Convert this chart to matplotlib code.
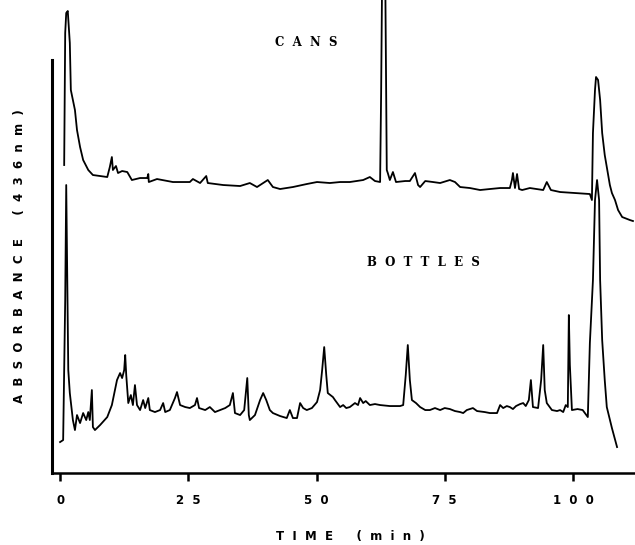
import matplotlib
matplotlib.use("Agg")
import matplotlib.pyplot as plt

# retention time (min) / absorbance (arbitrary units)
cans_t = [0.8, 1.0, 1.2, 1.5, 1.9, 2.1, 2.5, 2.9, 3.3, 3.9, 4.5,
          5.5, 6.4, 9.2, 9.7, 10.1, 10.3, 10.9, 11.3, 12.1, 13.1,
          14.0, 15.6, 17.0, 17.2, 17.3, 18.9, 22.0, 25.3, 25.9, 27.3,
          28.5, 28.8, 31.8, 35.1, 37.0, 38.4, 40.5, 41.5, 42.9, 45.4,
          48.1, 50.1, 52.6, 54.6, 56.5, 59.1, 60.4, 61.4, 62.4, 62.6,
          62.8, 63.4, 63.7, 63.9, 64.3, 64.9, 65.5, 67.3, 68.2, 69.2,
          69.8, 70.2, 71.2, 72.7, 74.1, 76.0, 77.0, 78.0, 79.9, 81.9,
          83.8, 85.8, 87.7, 88.1, 88.3, 88.7, 89.1, 89.5, 90.1, 91.6,
          94.2, 94.9, 95.7, 97.5, 100.4, 103.3, 103.7, 103.9, 104.3, 104.5,
          104.9, 105.3, 105.7, 106.2, 106.6, 107.2, 107.6, 108.2, 108.8, 109.6,
          111.1, 111.7]
cans_a = [308, 440, 460, 462, 430, 383, 373, 363, 343, 326, 313,
          303, 298, 296, 306, 316, 303, 307, 300, 302, 301,
          293, 295, 295, 299, 291, 294, 291, 291, 294, 290,
          297, 290, 288, 287, 290, 286, 293, 286, 284, 286,
          289, 291, 290, 291, 291, 293, 296, 292, 291, 380,
          500, 500, 303, 300, 293, 301, 291, 292, 292, 300,
          288, 286, 292, 291, 290, 293, 291, 286, 285, 283,
          284, 285, 285, 293, 300, 285, 299, 284, 283, 285,
          283, 291, 283, 281, 280, 279, 273, 340, 383, 396,
          393, 373, 340, 318, 306, 288, 280, 273, 263, 256,
          253, 252]

bottles_t = [0.0, 0.6, 1.0, 1.2, 1.6, 1.9, 2.5, 2.9, 3.3, 3.9,
             4.5, 5.1, 5.5, 5.8, 6.2, 6.4, 6.8, 7.8, 9.2, 10.1,
             11.1, 11.7, 12.1, 12.5, 12.7, 12.9, 13.3, 13.8, 14.2, 14.6,
             15.0, 15.6, 16.2, 16.6, 17.2, 17.5, 18.5, 19.5, 20.1, 20.5,
             21.4, 22.4, 22.8, 23.4, 24.4, 25.3, 26.3, 26.7, 27.1, 28.3,
             29.2, 30.2, 31.2, 32.2, 33.1, 33.7, 34.1, 35.1, 35.9, 36.5,
             36.8, 37.0, 38.0, 39.0, 39.6, 40.2, 40.9, 41.5, 42.9, 44.2,
             44.8, 45.4, 46.2, 46.8, 47.4, 48.1, 49.1, 50.1, 50.7, 51.1,
             51.5, 51.9, 52.2, 53.2, 53.6, 54.6, 55.2, 55.8, 56.5, 57.5,
             58.1, 58.5, 59.1, 59.6, 60.4, 61.4, 62.4, 64.3, 66.3, 66.9,
             67.4, 67.8, 68.2, 68.6, 69.4, 70.2, 71.2, 72.1, 73.1, 74.1,
             75.0, 76.0, 77.0, 78.0, 78.6, 79.3, 80.5, 81.3, 82.8, 83.8,
             85.2, 85.8, 86.4, 87.1, 87.7, 88.3, 88.9, 89.7, 90.3, 90.8,
             91.4, 91.8, 92.2, 93.2, 93.8, 94.2, 94.5, 94.9, 95.9, 96.9,
             97.5, 98.1, 98.6, 99.0, 99.2, 99.4, 99.8, 100.9, 101.9, 102.9,
             103.3, 103.9, 104.3, 104.7, 105.1, 105.3, 105.7, 106.2, 106.6, 107.6,
             108.6]
bottles_a = [31, 33, 173, 288, 103, 80, 53, 43, 58, 50,
             60, 53, 61, 53, 83, 46, 43, 48, 56, 68,
             93, 100, 95, 103, 118, 98, 70, 78, 68, 88,
             68, 63, 73, 65, 75, 63, 61, 63, 70, 61,
             63, 75, 81, 68, 66, 65, 68, 75, 65, 63,
             66, 61, 63, 65, 68, 80, 60, 58, 63, 95,
             58, 53, 58, 73, 80, 73, 63, 60, 57, 55,
             63, 55, 55, 70, 65, 63, 65, 71, 83, 103,
             126, 98, 80, 76, 73, 66, 68, 65, 66, 70,
             68, 75, 70, 72, 68, 69, 68, 67, 67, 68,
             98, 128, 93, 73, 70, 66, 63, 63, 65, 63,
             65, 64, 62, 61, 60, 63, 65, 62, 61, 60,
             60, 68, 65, 67, 66, 64, 67, 69, 70, 67,
             73, 93, 66, 65, 93, 128, 83, 70, 63, 62,
             63, 61, 68, 66, 158, 108, 63, 64, 63, 56,
             130, 193, 273, 293, 273, 193, 133, 93, 66, 45,
             26]

xticks = [0, 25, 50, 75, 100]
xtick_labels = ["0", "25", "50", "75", "100"]

# the original lettering is very wide, so pad letters with narrow spaces
SEP = "\u2002\u2009"
GAP = "\u2003\u2003"


def spaced(s):
    return GAP.join(SEP.join(w) for w in s.split(" "))


fig = plt.figure(figsize=(6.35, 5.45), dpi=100)
ax = fig.add_axes([0.082, 0.132, 0.918, 0.868])

ax.plot(cans_t, cans_a, color="black", lw=1.3)
ax.plot(bottles_t, bottles_a, color="black", lw=1.3)

ax.set_xlim(-1.56, 112.1)
ax.set_ylim(0, 473)

ax.text(48.0, 431, spaced("CANS"), fontsize=8.5, fontweight="bold",
        family="DejaVu Serif", ha="center", va="center")
ax.text(70.8, 211, spaced("BOTTLES"), fontsize=8.5, fontweight="bold",
        family="DejaVu Serif", ha="center", va="center")

for s in ["top", "right"]:
    ax.spines[s].set_visible(False)
ax.spines["left"].set_linewidth(2.2)
ax.spines["left"].set_bounds(0, 413)
ax.spines["bottom"].set_linewidth(1.8)

ax.set_yticks([])
ax.set_xticks(xticks)
ax.set_xticklabels([spaced(l) for l in xtick_labels], fontsize=8.5,
                   fontweight="bold")
ax.tick_params(axis="x", direction="out", length=6, width=1.8, pad=9)

fig.text(0.551, 0.015, spaced("TIME (min)"), fontsize=8.5, fontweight="bold",
         ha="center", va="center")
fig.text(0.030, 0.530, spaced("ABSORBANCE (436nm)"), fontsize=8.5,
         fontweight="bold", rotation=90, ha="center", va="center")

fig.savefig("out.png", dpi=100)
